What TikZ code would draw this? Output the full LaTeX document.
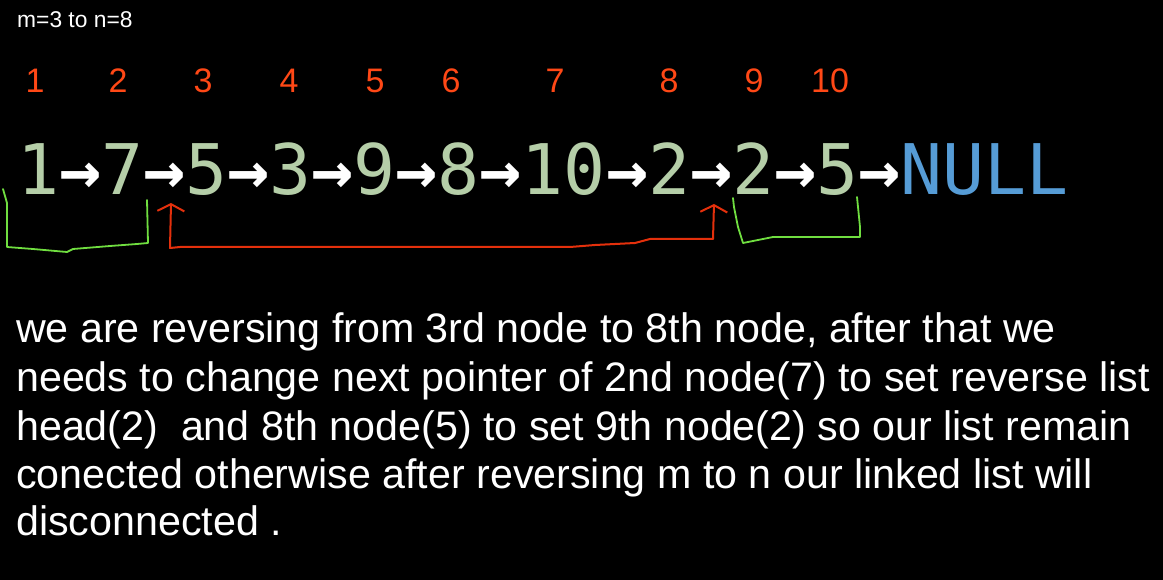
\documentclass[tikz,border=0pt]{standalone}
\usepackage{fontspec}
\setmainfont{Liberation Sans}
\newfontfamily\codefont{DejaVu Sans Mono}
\usetikzlibrary{arrows.meta}

\definecolor{idxred}{RGB}{255,72,22}
\definecolor{valgreen}{RGB}{181,206,168}
\definecolor{nullblue}{RGB}{86,156,214}
\definecolor{markgreen}{RGB}{112,222,64}
\definecolor{markred}{RGB}{228,48,12}

\newcommand{\nodeval}[1]{\textcolor{valgreen}{#1}}
\newcommand{\lnk}{\textcolor{white}{\bfseries →}}

\tikzset{
	idx/.style={text=idxred, font=\fontsize{34}{34}\selectfont, inner sep=0pt, anchor=base},
	para/.style={text=white, font=\fontsize{41.2}{48}\selectfont, inner sep=0pt, anchor=base west},
	bracket/.style={draw=markgreen, line width=1.8pt, line join=round, line cap=round},
	pointer/.style={draw=markred, line width=2pt, line join=round, line cap=round},
	barb/.tip={Straight Barb[length=7pt, width=27pt, line width=2pt]}
}

\begin{document}
\begin{tikzpicture}[x=1pt, y=-1pt]
	\useasboundingbox (0, 0) rectangle (1163, 580);
	\fill[black] (0, 0) rectangle (1163, 580);
	% range of the reversal
	\node[text=white, font=\fontsize{22.8}{23}\selectfont, inner sep=0pt, anchor=base west] (range) at (17, 28) {m=3 to n=8};
	% positions
	\foreach \n/\x in {1/35, 2/118, 3/203, 4/289, 5/375, 6/451, 7/555, 8/669, 9/754, 10/830}
		\node[idx] (idx\n) at (\x, 93) {\n};
	% the list
	\node[inner sep=0pt, anchor=base west, font=\codefont\fontsize{69.8}{70}\selectfont] (list) at (17.5, 195)
		{\nodeval{1}\lnk\nodeval{7}\lnk\nodeval{5}\lnk\nodeval{3}\lnk\nodeval{9}\lnk\nodeval{8}\lnk\nodeval{10}\lnk\nodeval{2}\lnk\nodeval{2}\lnk\nodeval{5}\lnk\textcolor{nullblue}{NULL}};
	% marks under the list
	\coordinate (revhead) at (171, 203);
	\coordinate (revtail) at (714, 204);
	\draw[bracket] (3, 189) -- (7, 203) -- (7, 247) -- (33, 249) -- (67, 252) -- (73, 249) -- (110, 246) -- (137, 244) -- (148, 243) -- (147, 200);
	\draw[bracket] (733, 198) -- (734, 207) -- (738, 227) -- (743, 243) -- (753, 241) -- (773, 237) -- (860, 237) -- (860, 227) -- (857, 197);
	\draw[pointer, barb-barb] (revhead) -- (170, 248) -- (180, 247) -- (570, 247) -- (595, 245) -- (635, 243) -- (650, 239) -- (713, 239) -- (revtail);
	% explanation
	\node[para] (line1) at (16, 343) {we are reversing from 3rd node to 8th node, after that we};
	\node[para] (line2) at (16, 391.5) {needs to change next pointer of 2nd node(7) to set reverse list};
	\node[para] (line3) at (16, 440) {head(2)~ and 8th node(5) to set 9th node(2) so our list remain};
	\node[para] (line4) at (16, 488) {conected otherwise after reversing m to n our linked list will};
	\node[para] (line5) at (16, 535) {disconnected .};
\end{tikzpicture}
\end{document}
